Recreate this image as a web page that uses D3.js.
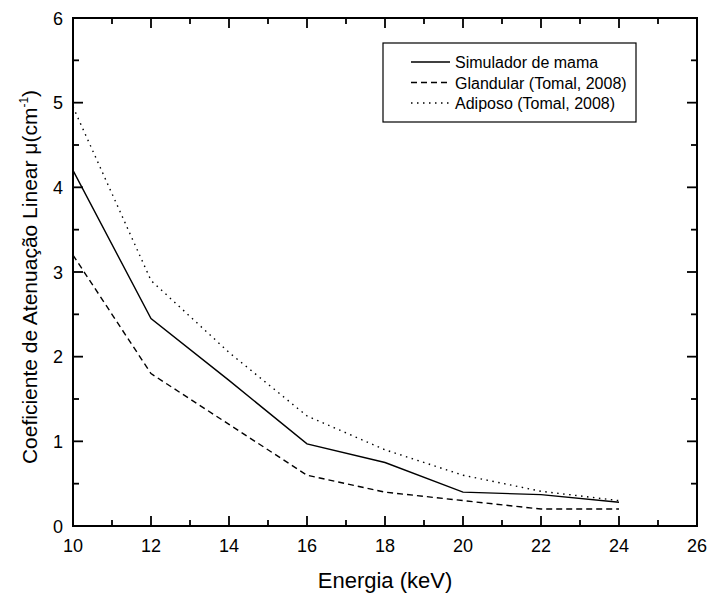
<!DOCTYPE html>
<html>
<head>
	<meta charset="utf-8">
	<script src="https://d3js.org/d3.v7.min.js"></script>
	<title>Coeficiente de Atenuação</title>
	<style>
		body { margin: 0; background: #fff; }
		text { font-family: "Liberation Sans", Arial, sans-serif; fill: #000; }
	</style>
</head>
<body>
<div id="chart"></div>
<script type="text/javascript">

	// data
	var energia = [10, 12, 14, 16, 18, 20, 22, 24];
	var simulador = [4.2, 2.45, 1.72, 0.97, 0.75, 0.4, 0.37, 0.28];
	var glandular = [3.2, 1.8, 1.2, 0.6, 0.4, 0.3, 0.2, 0.2];
	var adiposo = [4.95, 2.9, 2.05, 1.3, 0.9, 0.6, 0.41, 0.3];
	var seriesNames = ["Simulador de mama", "Glandular (Tomal, 2008)", "Adiposo (Tomal, 2008)"];
	var xTicks = [10, 12, 14, 16, 18, 20, 22, 24, 26];
	var yTicks = [0, 1, 2, 3, 4, 5, 6];

	var width = 712, height = 597;
	// plot frame (don't use "top" - it's window.top)
	var pL = 73, pR = 697, pT = 18, pB = 526;

	var svg = d3.select("#chart").append("svg")
		.attr("width", width)
		.attr("height", height);

	var x = d3.scaleLinear().domain([10, 26]).range([pL, pR]);
	var y = d3.scaleLinear().domain([0, 6]).range([pB, pT]);

	var minorX = d3.range(11, 26, 2);
	var minorY = d3.range(0.5, 6, 1);

	// ticks inside the frame, on all four sides
	var g = svg.append("g");
	xTicks.forEach(function(t){
		g.append("line").attr("x1", x(t)).attr("x2", x(t)).attr("y1", pB).attr("y2", pB - 10);
		g.append("line").attr("x1", x(t)).attr("x2", x(t)).attr("y1", pT).attr("y2", pT + 10);
	});
	minorX.forEach(function(t){
		g.append("line").attr("x1", x(t)).attr("x2", x(t)).attr("y1", pB).attr("y2", pB - 6);
		g.append("line").attr("x1", x(t)).attr("x2", x(t)).attr("y1", pT).attr("y2", pT + 6);
	});
	yTicks.forEach(function(t){
		g.append("line").attr("x1", pL).attr("x2", pL + 10).attr("y1", y(t)).attr("y2", y(t));
		g.append("line").attr("x1", pR).attr("x2", pR - 10).attr("y1", y(t)).attr("y2", y(t));
	});
	minorY.forEach(function(t){
		g.append("line").attr("x1", pL).attr("x2", pL + 6).attr("y1", y(t)).attr("y2", y(t));
		g.append("line").attr("x1", pR).attr("x2", pR - 6).attr("y1", y(t)).attr("y2", y(t));
	});
	g.selectAll("line").attr("stroke", "#000").attr("stroke-width", 1.8);

	svg.append("rect")
		.attr("x", pL).attr("y", pT)
		.attr("width", pR - pL).attr("height", pB - pT)
		.attr("fill", "none").attr("stroke", "#000").attr("stroke-width", 2);

	// tick labels
	svg.selectAll(".xlab").data(xTicks).enter().append("text")
		.attr("class", "xlab")
		.attr("x", function(d){ return x(d); })
		.attr("y", 552)
		.attr("text-anchor", "middle")
		.attr("font-size", 18)
		.text(function(d){ return d; });

	svg.selectAll(".ylab").data(yTicks).enter().append("text")
		.attr("class", "ylab")
		.attr("x", 63)
		.attr("y", function(d){ return y(d) + 6.5; })
		.attr("text-anchor", "end")
		.attr("font-size", 18)
		.text(function(d){ return d; });

	// axis titles
	svg.append("text")
		.attr("x", 385)
		.attr("y", 588)
		.attr("text-anchor", "middle")
		.attr("font-size", 22)
		.text("Energia (keV)");

	var yt = svg.append("text")
		.attr("transform", "translate(37,277) rotate(-90)")
		.attr("text-anchor", "middle")
		.attr("font-size", 21);
	yt.append("tspan").text("Coeficiente de Atenuação Linear μ(cm");
	yt.append("tspan").attr("font-size", 12).attr("dy", -9).text("-1");
	yt.append("tspan").attr("dy", 9).text(")");

	// lines
	var dashes = [null, "6,4", "1.5,4.5"];
	var allSeries = [simulador, glandular, adiposo];
	var line = d3.line()
		.x(function(d, i){ return x(energia[i]); })
		.y(function(d){ return y(d); });

	svg.selectAll(".serie").data(allSeries).enter().append("path")
		.attr("class", "serie")
		.attr("d", line)
		.attr("fill", "none")
		.attr("stroke", "#000")
		.attr("stroke-width", 1.4)
		.attr("stroke-dasharray", function(d, i){ return dashes[i]; });

	// legend
	var lg = svg.append("g");
	lg.append("rect")
		.attr("x", 383).attr("y", 43)
		.attr("width", 253).attr("height", 79)
		.attr("fill", "#fff").attr("stroke", "#000").attr("stroke-width", 1.2);
	seriesNames.forEach(function(name, i){
		var yy = 62 + i * 20.5;
		lg.append("line")
			.attr("x1", 411).attr("x2", 450)
			.attr("y1", yy).attr("y2", yy)
			.attr("stroke", "#000").attr("stroke-width", 1.4)
			.attr("stroke-dasharray", dashes[i]);
		lg.append("text")
			.attr("x", 455).attr("y", yy + 6)
			.attr("font-size", 16)
			.text(name);
	});

</script>
</body>
</html>
